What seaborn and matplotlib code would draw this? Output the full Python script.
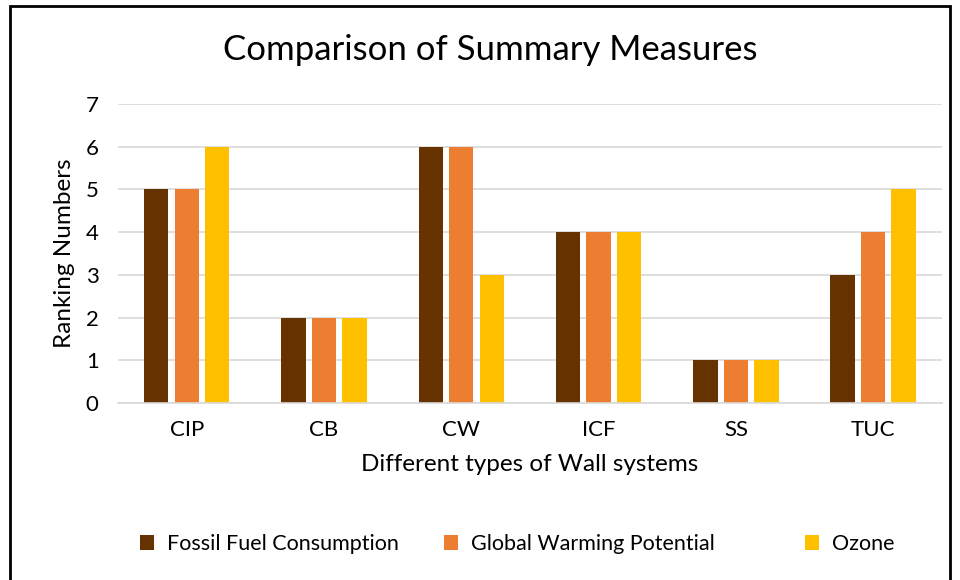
import pandas as pd
import numpy as np
import matplotlib.pyplot as plt
import seaborn as sns
from matplotlib.patches import Rectangle

# data
walls = ["CIP", "CB", "CW", "ICF", "SS", "TUC"]
fossil_fuel = [5, 2, 6, 4, 1, 3]
global_warming = [5, 2, 6, 4, 1, 4]
ozone = [6, 2, 3, 4, 1, 5]
measures = ["Fossil Fuel Consumption", "Global Warming Potential", "Ozone"]
colors = ["#663300", "#ED7D31", "#FFC000"]

df = pd.DataFrame({
    "Wall": walls * 3,
    "Measure": np.repeat(measures, len(walls)),
    "Rank": fossil_fuel + global_warming + ozone,
})

sns.set_theme(style="white")
plt.rcParams["font.family"] = ["Lato", "DejaVu Sans"]
plt.rcParams["text.color"] = "black"
plt.rcParams["axes.labelcolor"] = "black"

fig = plt.figure(figsize=(9.6, 5.8), dpi=100)
ax = fig.add_axes([0.123, 0.305, 0.858, 0.516])

sns.barplot(data=df, x="Wall", y="Rank", hue="Measure", order=walls,
            hue_order=measures, palette=colors, width=0.667, gap=0.2,
            saturation=1, linewidth=0, ax=ax, legend=True)

ax.set_ylim(0, 7)
ax.set_yticks(range(0, 8))
ax.yaxis.grid(True, color="#D9D9D9", linewidth=1.2)
ax.set_axisbelow(True)
for s in ["left", "right", "top"]:
    ax.spines[s].set_visible(False)
ax.spines["bottom"].set_color("#D9D9D9")
ax.spines["bottom"].set_linewidth(1.2)
ax.tick_params(axis="both", length=0, labelsize=16, colors="#000000")
ax.tick_params(axis="x", pad=12)
ax.tick_params(axis="y", pad=14)

fig.text(490 / 960, 1 - 50 / 580, "Comparison of Summary Measures",
         fontsize=25, ha="center", va="center")
ax.set_xlabel("Different types of Wall systems", fontsize=17.5, labelpad=10)
ax.set_ylabel("Ranking Numbers", fontsize=17.5, labelpad=8)

# legend: first two entries together, Ozone placed on its own like the reference
handles, labels = ax.get_legend_handles_labels()
ax.get_legend().remove()
leg_kw = dict(loc="center left", frameon=False, fontsize=15.5, handlelength=0.65,
              handleheight=0.65, handletextpad=0.6, borderpad=0, borderaxespad=0,
              bbox_transform=fig.transFigure)
leg1 = ax.legend(handles[:2], labels[:2], ncol=2, columnspacing=2.1,
                 bbox_to_anchor=(140 / 960, 1 - 544 / 580), **leg_kw)
ax.add_artist(leg1)
ax.legend(handles[2:], labels[2:], ncol=1,
          bbox_to_anchor=(805 / 960, 1 - 544 / 580), **leg_kw)

# outer chart border
fig.patches.append(Rectangle((10 / 960, -0.01), 940 / 960, 1 - 6 / 580 + 0.01,
                             transform=fig.transFigure, fill=False,
                             edgecolor="black", linewidth=2))

fig.savefig("out.png", dpi=100)
